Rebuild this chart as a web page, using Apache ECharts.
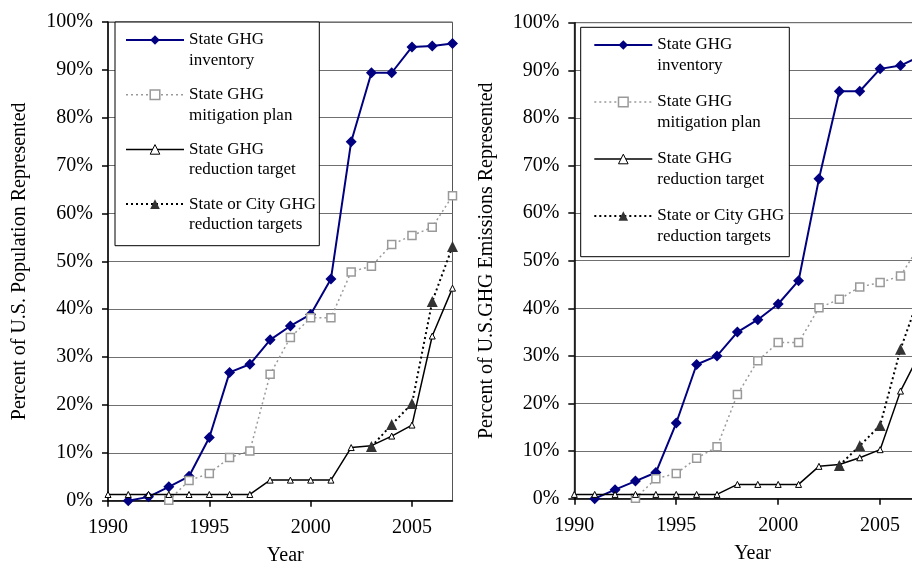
<!DOCTYPE html>
<html>
<head>
<meta charset="utf-8">
<title>State GHG policy coverage</title>
<script src="https://cdn.jsdelivr.net/npm/echarts@6/dist/echarts.min.js"></script>
<style>
  html, body { margin: 0; padding: 0; background: #fff; }
  #chart { width: 912px; height: 563px; }
</style>
</head>
<body>
<div id="chart"></div>
<script>
// Years on the horizontal axis
const years = [1990, 1991, 1992, 1993, 1994, 1995, 1996, 1997, 1998, 1999,
               2000, 2001, 2002, 2003, 2004, 2005, 2006, 2007];

// Series names and their two-line legend captions
const seriesNames = [
  'State GHG inventory',
  'State GHG mitigation plan',
  'State GHG reduction target',
  'State or City GHG reduction targets'
];
const legendCaptions = [
  'State GHG\ninventory',
  'State GHG\nmitigation plan',
  'State GHG\nreduction target',
  'State or City GHG\nreduction targets'
];

// Percent of U.S. population represented
const popInventory  = [null, 0.0, 0.8, 2.9, 5.1, 13.2, 26.8, 28.5, 33.6, 36.5,
                       38.9, 46.3, 75.0, 89.4, 89.4, 94.8, 95.0, 95.5];
const popPlan       = [null, null, null, 0.1, 4.2, 5.7, 9.0, 10.4, 26.4, 34.1,
                       38.2, 38.2, 47.8, 49.0, 53.5, 55.4, 57.1, 63.7];
const popTarget     = [1.3, 1.3, 1.3, 1.3, 1.3, 1.3, 1.3, 1.3, 4.3, 4.3,
                       4.3, 4.3, 11.1, 11.5, 13.5, 15.8, 34.4, 44.4];
const popCityTarget = [null, null, null, null, null, null, null, null, null, null,
                       null, null, null, 11.3, 15.9, 20.3, 41.6, 53.1];

// Percent of U.S. GHG emissions represented
const emInventory  = [null, 0.0, 1.9, 3.7, 5.5, 15.9, 28.2, 30.0, 35.0, 37.6,
                      40.9, 45.8, 67.2, 85.6, 85.6, 90.3, 91.0, 93.0];
const emPlan       = [null, null, null, 0.1, 4.2, 5.3, 8.5, 10.9, 21.9, 29.0,
                      32.8, 32.8, 40.1, 41.9, 44.5, 45.4, 46.8, 53.6];
const emTarget     = [0.9, 0.9, 0.9, 0.9, 0.9, 0.9, 0.9, 0.9, 3.0, 3.0,
                      3.0, 3.0, 6.8, 7.2, 8.6, 10.3, 22.6, 31.0];
const emCityTarget = [null, null, null, null, null, null, null, null, null, null,
                      null, null, null, 7.0, 11.1, 15.4, 31.4, 43.5];

// Axis captions
const xTitle = 'Year';
const yTitles = ['Percent of U.S. Population Represented', 'Percent of U.S.GHG Emissions Represented'];

const FONT = 'Liberation Serif, Times New Roman, serif';

// Per-series look: line, marker
const looks = [
  { line: { color: '#000080', width: 2, type: 'solid' },
    symbol: 'diamond', size: 11,
    item: { color: '#000080', borderColor: '#000080', borderWidth: 0 } },
  { line: { color: '#9a9a9a', width: 1.5, type: [2, 3] },
    symbol: 'rect', size: 8,
    item: { color: '#ffffff', borderColor: '#999999', borderWidth: 1.5 } },
  { line: { color: '#000000', width: 1.5, type: 'solid' },
    symbol: 'triangle', size: 6,
    item: { color: '#ffffff', borderColor: '#000000', borderWidth: 1 } },
  { line: { color: '#000000', width: 2, type: [2, 3] },
    symbol: 'triangle', size: 11,
    item: { color: '#333333', borderColor: '#333333', borderWidth: 0 } }
];

function pairs(values) {
  const out = [];
  for (let i = 0; i < years.length; i++) {
    if (values[i] !== null) out.push([years[i], values[i]]);
  }
  return out;
}

function makeSeries(valuesList, axisIndex) {
  return valuesList.map((vals, i) => ({
    name: seriesNames[i],
    type: 'line',
    xAxisIndex: axisIndex,
    yAxisIndex: axisIndex,
    data: pairs(vals),
    symbol: looks[i].symbol,
    symbolSize: looks[i].size,
    showAllSymbol: true,
    lineStyle: looks[i].line,
    itemStyle: looks[i].item,
    emphasis: { disabled: true },
    z: 2 + i,
    animation: false
  }));
}

function makeXAxis(gridIndex) {
  return {
    type: 'value', gridIndex: gridIndex,
    min: 1990, max: 2007, interval: 5,
    name: xTitle, nameLocation: 'middle', nameGap: 45,
    nameTextStyle: { fontFamily: FONT, fontSize: 20, color: '#000', padding: [0, 0, 0, 10] },
    axisLine: { show: true, onZero: false, lineStyle: { color: '#000', width: 1.5 } },
    axisTick: { show: true, inside: false, length: 6, lineStyle: { color: '#000', width: 1.5 } },
    axisLabel: { fontFamily: FONT, fontSize: 20, color: '#000', margin: 17, showMaxLabel: false,
                 formatter: v => String(v) },
    splitLine: { show: false }
  };
}

function makeYAxis(gridIndex, title) {
  return {
    type: 'value', gridIndex: gridIndex,
    min: 0, max: 100, interval: 10,
    name: title, nameLocation: 'middle', nameGap: 78, nameRotate: 90,
    nameTextStyle: { fontFamily: FONT, fontSize: 20, color: '#000' },
    axisLine: { show: true, lineStyle: { color: '#000', width: 1.5 } },
    axisTick: { show: true, inside: false, length: 6, lineStyle: { color: '#000', width: 1.5 } },
    axisLabel: { fontFamily: FONT, fontSize: 20, color: '#000', margin: 15, formatter: '{value}%' },
    splitLine: { show: true, lineStyle: { color: '#707070', width: 1 } }
  };
}

// Each caption gets an empty first line so that the icon sits level with
// the caption's first written line.
function makeLegend(left, top, gap) {
  return {
    orient: 'vertical',
    left: left, top: top,
    padding: 0,
    itemGap: gap,
    itemWidth: 58, itemHeight: 12,
    selectedMode: false,
    backgroundColor: 'transparent',
    borderWidth: 0,
    z: 6,
    formatter: name => ' \n' + legendCaptions[seriesNames.indexOf(name)],
    textStyle: { fontFamily: FONT, fontSize: 17, color: '#000', lineHeight: 20.5 },
    data: seriesNames.map((n, i) => ({
      name: n,
      itemStyle: looks[i].item,
      lineStyle: looks[i].line
    }))
  };
}

const chart = echarts.init(document.getElementById('chart'), null, { renderer: 'canvas' });

chart.setOption({
  animation: false,
  backgroundColor: '#ffffff',
  grid: [
    { left: 108, top: 22, width: 344.5, height: 478.7, show: true, borderColor: '#555', borderWidth: 1,
      backgroundColor: 'transparent', containLabel: false, outerBoundsMode: 'none' },
    { left: 574.3, top: 22.7, width: 346.6, height: 476, show: true, borderColor: '#555', borderWidth: 1,
      backgroundColor: 'transparent', containLabel: false, outerBoundsMode: 'none' }
  ],
  xAxis: [makeXAxis(0), makeXAxis(1)],
  yAxis: [makeYAxis(0, yTitles[0]), makeYAxis(1, yTitles[1])],
  legend: [
    makeLegend(125, 40 - 30.75, 54.7 - 61.5),
    makeLegend(593.3, 45 - 30.75, 57 - 61.5)
  ],
  graphic: [
    { type: 'rect', z: 5, shape: { x: 115, y: 22, width: 204.3, height: 223.7 },
      style: { fill: '#fff', stroke: '#000', lineWidth: 1 } },
    { type: 'rect', z: 5, shape: { x: 580.7, y: 27.3, width: 208.6, height: 229.4 },
      style: { fill: '#fff', stroke: '#000', lineWidth: 1 } }
  ],
  series: [].concat(
    makeSeries([popInventory, popPlan, popTarget, popCityTarget], 0),
    makeSeries([emInventory, emPlan, emTarget, emCityTarget], 1)
  )
});
</script>
</body>
</html>
